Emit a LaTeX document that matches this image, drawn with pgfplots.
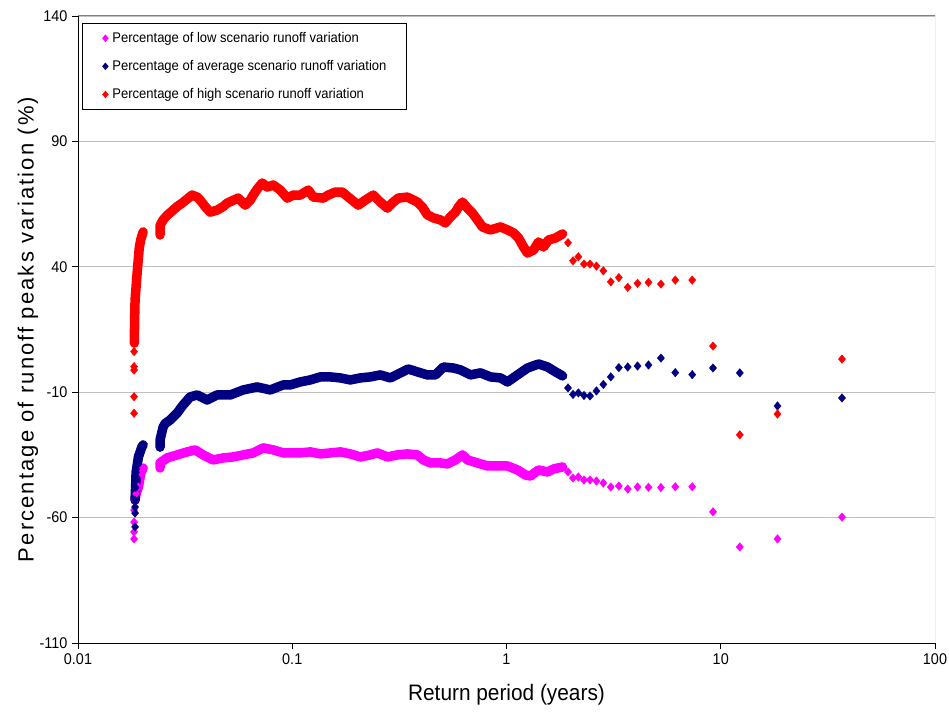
\documentclass[border=0pt]{standalone}
\usepackage{fontspec}
\setmainfont{Liberation Sans}[FakeStretch=0.93]
\newfontfamily\ylabfont{Liberation Sans}[LetterSpace=9.6]
\usepackage{pgfplots}
\pgfplotsset{compat=1.18}
\definecolor{lowc}{RGB}{255,0,255}
\definecolor{avgc}{RGB}{0,0,128}
\definecolor{highc}{RGB}{255,0,0}
\definecolor{gridc}{RGB}{192,192,192}
\definecolor{borderc}{RGB}{128,128,128}
\pgfplotsset{
  lowsty/.style={color=lowc, mark=diamond*, mark size=4.3bp, mark options={solid, line width=0.3bp, fill=lowc, xscale=1.12}},
  avgsty/.style={color=avgc, mark=diamond*, mark size=4.3bp, mark options={solid, line width=0.3bp, fill=avgc, xscale=1.12}},
  highsty/.style={color=highc, mark=diamond*, mark size=4.3bp, mark options={solid, line width=0.3bp, fill=highc, xscale=1.12}},
  dense/.style={line width=9.5bp, line join=round, line cap=round},
}
\begin{document}
\begin{tikzpicture}
\begin{axis}[
  name=ax,
  scale only axis, width=857bp, height=627bp,
  xmode=log, xmin=0.01, xmax=100, ymin=-110, ymax=140,
  xtick={0.01,0.1,1,10,100}, xticklabels={0.01,0.1,1,10,100},
  ytick={-110,-60,-10,40,90,140}, yticklabels={-110,-60,-10,40,90,140},
  xminorticks=false, yminorticks=false,
  axis x line*=bottom, axis y line*=left,
  axis line style={black, line width=0.8bp, -},
  tick align=outside, major tick length=6bp, tick style={black, line width=0.8bp},
  ymajorgrids, major grid style={gridc, line width=0.8bp},
  ticklabel style={font=\fontsize{15.5bp}{17bp}\selectfont},
  xticklabel style={yshift=-1bp},
  yticklabel style={xshift=-1bp},
  every axis y label/.style={at={(axis description cs:-0.0583,0.5)}, rotate=90, anchor=center},
  every axis x label/.style={at={(axis description cs:0.5,-0.0829)}, anchor=center},
  ylabel={\ylabfont\fontsize{22bp}{24bp}\selectfont Percentage of runoff peaks variation (\%)},
  xlabel={\fontsize{22.4bp}{24bp}\selectfont Return period (years)},
  legend style={at={(axis description cs:0.00467,0.98884)}, anchor=north west, draw=black, line width=0.8bp, fill=white,
    inner xsep=18bp, inner ysep=7bp, row sep=12.5bp, font=\fontsize{14bp}{16bp}\selectfont, cells={anchor=west}},
  legend image code/.code={\path[draw=none,fill=none] (0bp,0bp) -- (10bp,0bp); \draw[#1, mark size=3.5bp] plot coordinates {(5bp,0bp)};},
]
\draw[borderc, line width=1bp] (rel axis cs:0,1) -- (rel axis cs:1,1) -- (rel axis cs:1,0);

% ---- low scenario
\addplot[lowsty, only marks] coordinates {
(1.937,-41.8) (2.044,-44.2) (2.165,-43.8) (2.3,-45) (2.453,-45) (2.629,-45.4) (2.831,-46.2) (3.067,-47.8) (3.345,-47.4) (3.68,-48.6) (4.089,-47.8) (4.6,-47.9) (5.257,-48) (6.133,-47.7) (7.36,-47.7) (9.2,-57.7) (12.27,-71.7) (18.4,-68.5) (36.8,-59.8)
};
\addlegendentry{Percentage of low scenario runoff variation}
\addplot[lowsty, only marks, forget plot] coordinates {
(0.01827,-68.5) (0.01827,-65.7) (0.01827,-61.8) (0.01827,-57)
};
\addplot[lowsty, dense, forget plot] coordinates {
(0.01847,-53) (0.01867,-50.5) (0.01915,-47.8) (0.01966,-42.2) (0.02014,-40.2)
};
\addplot[lowsty, dense, forget plot] coordinates {
(0.02416,-40.2) (0.02416,-38.2) (0.02606,-36.2) (0.02902,-35) (0.03231,-33.8) (0.03522,-33) (0.03838,-35) (0.04274,-37) (0.04760,-36.2) (0.05300,-35.8) (0.05904,-35) (0.06573,-34.2) (0.07321,-32.2) (0.08153,-33) (0.09078,-34.2) (0.09787,-34.2) (0.10899,-34.2) (0.12140,-33.8) (0.13518,-34.6) (0.15053,-34.2) (0.16761,-33.8) (0.18661,-34.6) (0.20787,-35.8) (0.23146,-35) (0.24957,-34.2) (0.27793,-35.8) (0.30951,-35) (0.34466,-34.6) (0.38375,-35) (0.40933,-37) (0.44142,-38.2) (0.49159,-38.2) (0.53003,-38.6) (0.57769,-37) (0.62289,-35) (0.65729,-37) (0.73195,-38.2) (0.81510,-39.4) (0.90774,-39.4) (1.0108,-39.4) (1.1258,-41) (1.2270,-43) (1.2947,-43.4) (1.4111,-41) (1.5546,-41.8) (1.6583,-40.6) (1.8268,-39.8)
};

% ---- average scenario
\addplot[avgsty, only marks] coordinates {
(1.937,-8.3) (2.044,-10.9) (2.165,-10.3) (2.3,-11.3) (2.453,-11.5) (2.629,-9.5) (2.831,-6.9) (3.067,-3.9) (3.345,-0.2) (3.68,0.05) (4.089,0.45) (4.6,0.85) (5.257,3.6) (6.133,-2.2) (7.36,-3.0) (9.2,-0.35) (12.27,-2.3) (18.4,-15.5) (36.8,-12.3)
};
\addlegendentry{Percentage of average scenario runoff variation}
\addplot[avgsty, only marks, forget plot] coordinates {
(0.01847,-63.7) (0.01847,-58.2) (0.01847,-55.8)
};
\addplot[avgsty, dense, forget plot] coordinates {
(0.01847,-53) (0.01857,-48) (0.01867,-42) (0.01915,-35.8) (0.01985,-31.9) (0.02014,-31)
};
\addplot[avgsty, dense, forget plot] coordinates {
(0.02416,-31.9) (0.02416,-29) (0.02496,-23.9) (0.02551,-22.5) (0.02691,-21.1) (0.02902,-18.3) (0.03095,-15.1) (0.03337,-11.9) (0.03599,-11.1) (0.04007,-13.1) (0.04462,-11.1) (0.05133,-11.1) (0.05904,-9.1) (0.06862,-7.9) (0.07895,-9.1) (0.09078,-7.1) (0.09787,-7.1) (0.10899,-5.9) (0.12140,-5.1) (0.13518,-3.9) (0.15053,-3.9) (0.16761,-4.3) (0.18661,-5.1) (0.20787,-4.3) (0.23146,-3.9) (0.25776,-3.1) (0.28704,-4.3) (0.31962,-2.3) (0.34839,-0.75) (0.38375,-1.9) (0.42739,-3.1) (0.46583,-3.1) (0.50772,0.05) (0.56539,-0.35) (0.60963,-1.1) (0.67886,-3.1) (0.75597,-2.3) (0.84186,-3.9) (0.93752,-4.3) (1.0108,-5.9) (1.1258,-3.1) (1.2536,-0.35) (1.4111,1.25) (1.5546,0.05) (1.6944,-1.9) (1.8268,-3.5)
};

% ---- high scenario
\addplot[highsty, only marks] coordinates {
(1.937,49.6) (2.044,42.4) (2.165,44) (2.3,41.1) (2.453,41.1) (2.629,40.3) (2.831,38.4) (3.067,34) (3.345,35.7) (3.68,31.8) (4.089,33.4) (4.6,33.8) (5.257,33.1) (6.133,34.7) (7.36,34.7) (9.2,8.4) (12.27,-27) (18.4,-18.7) (36.8,3.2)
};
\addlegendentry{Percentage of high scenario runoff variation}
\addplot[highsty, only marks, forget plot] coordinates {
(0.01827,-18.4) (0.01827,-11.8) (0.01827,-1.2) (0.01827,0.2) (0.01827,6.2)
};
\addplot[highsty, dense, forget plot] coordinates {
(0.01833,9.6) (0.01837,18) (0.01847,26.8) (0.01893,38.7) (0.01934,47.9) (0.01966,51) (0.02014,53.9)
};
\addplot[highsty, dense, forget plot] coordinates {
(0.02416,52.7) (0.02416,56.5) (0.02496,58.7) (0.02606,60.5) (0.02780,62.6) (0.02902,64) (0.03062,65.4) (0.03231,67) (0.03410,68.6) (0.03599,67.8) (0.03717,66.6) (0.03922,64) (0.04139,61.8) (0.04462,62.6) (0.04760,64) (0.04970,65.4) (0.05300,66.5) (0.05594,67.4) (0.06032,64.6) (0.06365,66.5) (0.06573,68.6) (0.06862,71) (0.07242,73.4) (0.07644,71.8) (0.08153,72.6) (0.08790,70.6) (0.09478,67.4) (0.10108,68.6) (0.10899,68.6) (0.11881,70.6) (0.12537,67.8) (0.13962,67.4) (0.14733,68.6) (0.15884,69.8) (0.17125,69.8) (0.18264,67.8) (0.20345,64.6) (0.21935,66.6) (0.23905,68.6) (0.25776,65.8) (0.27793,63.4) (0.29646,65.8) (0.31286,67.4) (0.34466,67.8) (0.38375,65.8) (0.40495,63.8) (0.42739,60.7) (0.45591,59.5) (0.49159,58.7) (0.51875,57.5) (0.54742,59.9) (0.57769,61.8) (0.59665,63.8) (0.62289,65.8) (0.65729,63.4) (0.69363,61.4) (0.73195,58.7) (0.77242,55.9) (0.84186,54.7) (0.93752,55.9) (1.0108,54.7) (1.0783,53.5) (1.1380,51.5) (1.2009,47.9) (1.2536,45.5) (1.3372,46.7) (1.4111,49.9) (1.4891,47.9) (1.5714,50.7) (1.6944,51.5) (1.8268,53.1)
};
\end{axis}
\pgfresetboundingbox
\path ([shift={(-78bp,-71bp)}]ax.south west) rectangle ([shift={(14bp,16bp)}]ax.north east);
\end{tikzpicture}
\end{document}
